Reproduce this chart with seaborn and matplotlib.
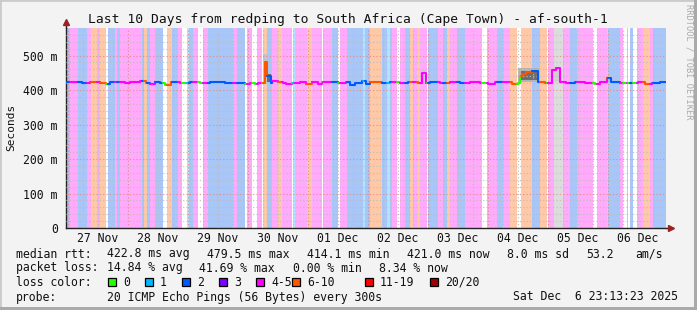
"""SmokePing style latency chart: redping -> af-south-1, last 10 days."""
import matplotlib
matplotlib.use('Agg')
import matplotlib.pyplot as plt
import matplotlib.dates as mdates
from matplotlib.patches import Rectangle
import numpy as np
import pandas as pd
import seaborn as sns

sns.set_theme(style='white')
plt.rcParams['font.family'] = ['DejaVu Sans Mono', 'DejaVu Sans']

W, H = 697, 310
END_TIME = pd.Timestamp('2025-12-06 23:13:23')
START_TIME = END_TIME - pd.Timedelta(days=10)
STEP_MIN = 24  # one rrd step per pixel column

TITLE = 'Last 10 Days from redping to South Africa (Cape Town) - af-south-1'
DAY_LABELS = ['27 Nov', '28 Nov', '29 Nov', '30 Nov', '01 Dec', '02 Dec',
              '03 Dec', '04 Dec', '05 Dec', '06 Dec']
Y_TICKS = [0, 100, 200, 300, 400, 500]
Y_LABELS = ['0', '100 m', '200 m', '300 m', '400 m', '500 m']

# packet loss over time as runs of (loss class, steps)
# w=0, c=1, b=2, p=4-5, o=6-10, g=no data
LOSS_RUNS = [
    ('b', 4), ('p', 8), ('b', 9), ('p', 4), ('o', 6), ('p', 3), ('o', 6),
    ('w', 2), ('b', 7), ('p', 2), ('b', 3), ('p', 22), ('b', 2), ('o', 3),
    ('b', 3), ('p', 5), ('b', 8), ('w', 4), ('o', 5), ('b', 6), ('p', 4),
    ('w', 5), ('c', 2), ('b', 4), ('p', 5), ('w', 5), ('p', 5), ('b', 25),
    ('p', 4), ('b', 8), ('w', 2), ('p', 5), ('w', 5), ('p', 5), ('w', 1),
    ('o', 4), ('b', 5), ('p', 6), ('o', 4), ('p', 10), ('w', 1), ('c', 2),
    ('p', 12), ('o', 5), ('p', 10), ('w', 1), ('p', 9), ('b', 6), ('w', 2),
    ('p', 7), ('b', 16), ('c', 2), ('b', 5), ('o', 12), ('b', 5), ('c', 3),
    ('b', 2), ('p', 5), ('w', 3), ('p', 5), ('b', 5), ('o', 3), ('p', 4),
    ('o', 3), ('p', 7), ('w', 1), ('b', 10), ('p', 5), ('b', 4), ('o', 3),
    ('p', 7), ('b', 8), ('p', 17), ('w', 5), ('p', 10), ('b', 6), ('p', 7),
    ('o', 7), ('w', 4), ('o', 11), ('b', 8), ('o', 7), ('w', 1), ('p', 6),
    ('g', 9), ('p', 7), ('b', 7), ('p', 16), ('w', 4), ('p', 10), ('o', 1),
    ('b', 12), ('p', 3), ('w', 4), ('p', 1), ('w', 2), ('b', 3), ('w', 4),
    ('p', 6), ('o', 7), ('p', 3), ('b', 13),
]

# median rtt (ms), value holds from the given step on
MEDIAN_STEP = [0, 9, 16, 24, 34, 40, 44, 54, 59, 64, 74, 80, 84, 89, 94, 99,
               105, 114, 124, 134, 144, 152, 159, 169, 179, 184, 189, 192,
               199, 201, 205, 206, 212, 217, 220, 226, 234, 240, 246, 252,
               256, 264, 272, 280, 284, 289, 296, 300, 304, 316, 324, 334,
               342, 346, 352, 356, 360, 364, 374, 384, 394, 404, 414, 422,
               429, 439, 446, 452, 454, 456, 460, 466, 472, 479, 486, 490,
               494, 500, 509, 519, 529, 534, 541, 545, 554, 564, 572, 579,
               586, 594]
MEDIAN_MS = [422, 423, 421, 423, 421, 419, 423, 424, 421, 423, 425, 421, 418,
             423, 421, 416, 422, 421, 422, 420, 424, 422, 420, 421, 419, 421,
             418, 421, 480, 440, 421, 426, 422, 420, 418, 421, 423, 419, 422,
             418, 422, 424, 421, 424, 414, 421, 425, 418, 422, 421, 423, 421,
             424, 422, 420, 450, 421, 423, 421, 423, 420, 423, 421, 419, 422,
             423, 418, 421, 440, 448, 452, 455, 424, 420, 458, 463, 424, 421,
             423, 421, 419, 422, 435, 422, 421, 420, 423, 419, 421, 422]

# visible smoke (ping spread): start step, end step, low ms, high ms, shade
SMOKE = [
    (197, 201, 420, 505, '#c4c4c4'),
    (201, 205, 422, 448, '#6a6a6a'),
    (356, 360, 424, 457, '#c8c8c8'),
    (452, 473, 422, 463, '#b4b4b4'),
    (455, 471, 430, 456, '#6e6e6e'),
    (486, 494, 422, 467, '#d0d0d0'),
    (537, 539, 422, 437, '#cccccc'),
    (541, 545, 424, 441, '#c4c4c4'),
    (597, 600, 421, 430, '#c8c8c8'),
]

LINE_COLORS = {'w': '#26ff00', 'c': '#00b8ff', 'b': '#0059ff',
               'p': '#ff00ff', 'o': '#ff5500', 'g': '#ff00ff'}
BG_COLORS = {'w': '#ffffff', 'c': '#aee6ff', 'b': '#a8c6f8',
             'p': '#ffaafa', 'o': '#ffc8a6', 'g': '#dcdcdc'}
LEGEND_SWATCHES = [('0', '#26ff00'), ('1', '#00b8ff'), ('2', '#0059ff'),
                   ('3', '#7e00ff'), ('4-5', '#ff00ff'), ('6-10', '#ff5500'),
                   ('11-19', '#ff0000'), ('20/20', '#a10000')]


def px(x, y):
    return x / W, 1 - y / H


def step_time(i):
    return mdates.date2num(START_TIME + pd.Timedelta(minutes=STEP_MIN * i))


codes = np.concatenate([[c] * n for c, n in LOSS_RUNS])
n_steps = len(codes)
median = np.zeros(n_steps)
for k, s in enumerate(MEDIAN_STEP):
    e = MEDIAN_STEP[k + 1] if k + 1 < len(MEDIAN_STEP) else n_steps
    median[s:e] = MEDIAN_MS[k]

fig = plt.figure(figsize=(W / 100, H / 100), dpi=100, facecolor='#f3f3f3')
l, b = px(66, 228)
r, t = px(666, 28)
ax = fig.add_axes([l, b, r - l, t - b])
ax.set_facecolor('white')

# loss background
pos = 0
for code, n in LOSS_RUNS:
    ax.axvspan(step_time(pos), step_time(pos + n), color=BG_COLORS[code],
               lw=0, zorder=0)
    pos += n

# smoke
for s, e, lo, hi, shade in SMOKE:
    ax.fill_between([step_time(s), step_time(e)], lo, hi, color=shade,
                    lw=0, zorder=1.5)

# median, one segment per loss run
rows = []
pos = 0
palette = {}
for seg, (code, n) in enumerate(LOSS_RUNS):
    idx = list(range(pos, pos + n))
    ys = list(median[pos:pos + n])
    nxt = median[pos + n] if pos + n < n_steps else median[-1]
    idx.append(pos + n)
    ys.append(nxt)
    for i, v in zip(idx, ys):
        rows.append({'time': step_time(i), 'ms': v, 'seg': seg})
    palette[seg] = LINE_COLORS[code]
    pos += n
df = pd.DataFrame(rows)
sns.lineplot(data=df, x='time', y='ms', hue='seg', palette=palette,
             estimator=None, sort=False, drawstyle='steps-post', lw=1.5,
             legend=False, ax=ax, zorder=3)

ax.set_xlabel('')
ax.set_ylabel('')

# grid: midnights + 100 ms major, 6 h + 20 ms minor
x0, x1 = step_time(0), step_time(n_steps)
first_midnight = START_TIME.normalize() + pd.Timedelta(days=1)
midnights = [mdates.date2num(first_midnight + pd.Timedelta(days=d))
             for d in range(10)]
six_hours = [mdates.date2num(first_midnight + pd.Timedelta(hours=6 * h))
             for h in range(0, 40)]
six_hours = [v for v in six_hours if x0 <= v <= x1]
ax.set_xticks(midnights)
ax.set_xticks(six_hours, minor=True)
ax.set_xticklabels([])
ax.set_yticks(Y_TICKS)
ax.set_yticks(np.arange(0, 580, 20), minor=True)
ax.set_yticklabels(Y_LABELS, fontsize=8.3, color='#111111')
ax.set_xlim(x0, x1)
ax.set_ylim(0, 580)
ax.grid(True, which='minor', color='#bdbdbd', lw=0.8, ls=(0, (1, 2)))
ax.grid(True, which='major', color='#e08c8c', lw=0.8, ls=(0, (1, 2)))
ax.set_axisbelow(False)
ax.tick_params(axis='y', which='major', length=2, pad=4, color='#444444')
ax.tick_params(axis='x', which='major', length=3, color='#cc4444',
               direction='out')
ax.tick_params(which='minor', length=0)

for i, lab in enumerate(DAY_LABELS):
    ax.text(midnights[i] + 0.5, -29, lab, ha='center', va='center',
            fontsize=8.3, color='#111111', clip_on=False)

for side in ('top', 'right'):
    ax.spines[side].set_visible(False)
for side in ('left', 'bottom'):
    ax.spines[side].set_color('#222222')
    ax.spines[side].set_linewidth(1)

# axis arrows
ax.plot([0, 0], [1, 1.025], color='#222222', lw=1, transform=ax.transAxes,
        clip_on=False)
ax.plot([0], [1.03], marker='^', ms=5, color='#992222',
        transform=ax.transAxes, clip_on=False)
ax.plot([1, 1.004], [0, 0], color='#222222', lw=1, transform=ax.transAxes,
        clip_on=False)
ax.plot([1.008], [0], marker='>', ms=5, color='#992222',
        transform=ax.transAxes, clip_on=False)

# texts
fig.text(*px(348, 19), TITLE, ha='center', va='center', fontsize=9.4,
         color='#111111')
fig.text(*px(11, 127), 'Seconds', ha='center', va='center', rotation=90,
         fontsize=8, color='#111111')
fig.text(*px(689, 62), 'RRDTOOL / TOBI OETIKER', ha='center', va='center',
         rotation=270, fontsize=6.2, color='#aaaaaa')

LEG_FS = 8.3
legend_rows = [
    (254, [(16, 'median rtt:'), (107, '422.8 ms avg'), (207, '479.5 ms max'),
           (307, '414.1 ms min'), (407, '421.0 ms now'), (507, '8.0 ms sd'),
           (586, '53.2'), (635, 'am/s')]),
    (268, [(16, 'packet loss:'), (107, '14.84 % avg'), (199, '41.69 % max'),
           (293, '0.00 % min'), (379, '8.34 % now')]),
    (297, [(16, 'probe:'),
           (107, '20 ICMP Echo Pings (56 Bytes) every 300s'),
           (513, 'Sat Dec  6 23:13:23 2025')]),
]
for y, items in legend_rows:
    for x, s in items:
        fig.text(*px(x, y), s, ha='left', va='center', fontsize=LEG_FS,
                 color='#111111')

fig.text(*px(16, 282), 'loss color:', ha='left', va='center',
         fontsize=LEG_FS, color='#111111')
swatch_x = [108, 145, 182, 219, 256, 292, 365, 430]
for x, (lab, col) in zip(swatch_x, LEGEND_SWATCHES):
    fx, fy = px(x, 286)
    fig.patches.append(Rectangle((fx, fy), 8 / W, 8 / H, transform=fig.transFigure,
                                 facecolor=col, edgecolor='black', lw=0.9))
    fig.text(*px(x + 15, 282), lab, ha='left', va='center', fontsize=LEG_FS,
             color='#111111')

# 3d frame of the canvas
fig.patches.append(Rectangle((0, 0), 1, 1, transform=fig.transFigure,
                             fill=False, edgecolor='#cbcbcb', lw=2))
fig.patches.append(Rectangle((1 - 3 / W, 0), 3 / W, 1,
                             transform=fig.transFigure, color='#aaaaaa', lw=0))
fig.patches.append(Rectangle((0, 0), 1, 3 / H,
                             transform=fig.transFigure, color='#aaaaaa', lw=0))

fig.savefig('out.png', dpi=100, facecolor=fig.get_facecolor())
